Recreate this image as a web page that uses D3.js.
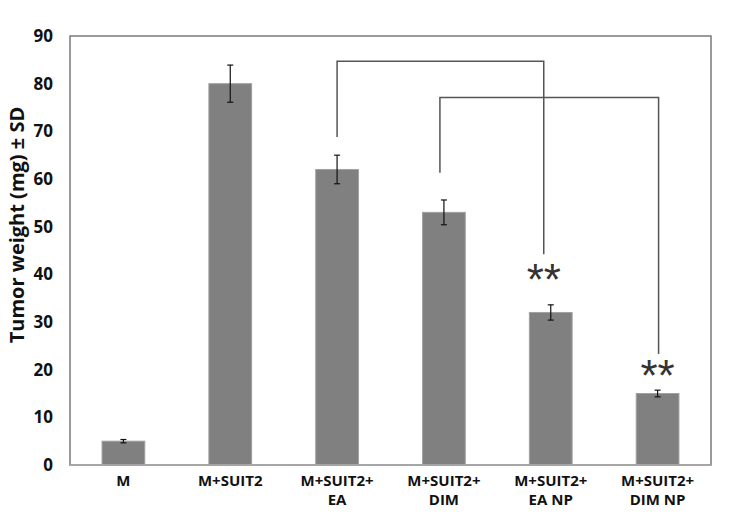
<!DOCTYPE html>
<html>
<head>
<meta charset="utf-8">
<script src="https://cdn.jsdelivr.net/npm/d3@7"></script>
<style>
  body { margin: 0; background: #fff; }
  svg { display: block; }
  text { font-family: "Open Sans", "Liberation Sans", sans-serif; }
</style>
</head>
<body>
<svg width="749" height="523"></svg>
<script>
// data
var categories = ["M", "M+SUIT2", "M+SUIT2+\nEA", "M+SUIT2+\nDIM", "M+SUIT2+\nEA NP", "M+SUIT2+\nDIM NP"];
var weights = [5, 80, 62, 53, 32, 15];
var sds = [0.35, 3.9, 3, 2.6, 1.6, 0.7];
var yTicks = [0, 10, 20, 30, 40, 50, 60, 70, 80, 90];
// brackets: from, to, top value, left leg end, right leg end
var brackets = [
    { from: 2, to: 4, top: 84.7, left: 68.8, right: 44.2, dxL: 0, dxR: -7 },
    { from: 3, to: 5, top: 77.1, left: 61.3, right: 23.3, dxL: -4, dxR: 1 }
];
var stars = [{ at: 4, value: 40, dx: -7 }, { at: 5, value: 20, dx: 0 }];

(function () {
    var svg = d3.select("svg");
    var left = 70, right = 711, top = 36, bottom = 465;

    var x = d3.scaleBand()
        .domain(d3.range(categories.length))
        .range([left, right])
        .paddingInner(0.6)
        .paddingOuter(0.3);
    var y = d3.scaleLinear().domain([0, 90]).range([bottom, top]);

    /*
        Frame
    */
    svg.append("rect")
        .attr("x", left).attr("y", top)
        .attr("width", right - left).attr("height", bottom - top)
        .attr("fill", "none")
        .attr("stroke", "#7a7a7a")
        .attr("stroke-width", 1.5);

    var yAxis = svg.append("g")
        .attr("transform", "translate(" + left + ",0)")
        .call(d3.axisLeft(y).tickValues(yTicks).tickSize(0).tickPadding(17));
    yAxis.select(".domain").remove();
    yAxis.selectAll("text")
        .attr("font-size", 17)
        .attr("font-weight", "bold")
        .attr("fill", "#111")
        .style("font-family", "'Open Sans', sans-serif");

    svg.append("text")
        .attr("transform", "translate(17,225) rotate(-90)")
        .attr("text-anchor", "middle")
        .attr("dy", ".35em")
        .attr("font-size", 20)
        .attr("font-weight", "bold")
        .attr("fill", "#111")
        .text("Tumor weight (mg) ± SD");

    /*
        Bars
    */
    var bars = svg.selectAll("g.bar").data(weights).enter().append("g")
        .attr("class", "bar");
    bars.append("rect")
        .attr("x", function (d, i) { return x(i); })
        .attr("y", function (d) { return y(d); })
        .attr("width", x.bandwidth())
        .attr("height", function (d) { return bottom - y(d); })
        .attr("fill", "#808080")
        .attr("stroke", "#a0a0a0")
        .attr("stroke-width", 1);

    // error bars
    bars.each(function (d, i) {
        var g = d3.select(this);
        var cx = x(i) + x.bandwidth() / 2;
        var y1 = y(d + sds[i]), y2 = y(d - sds[i]);
        g.append("line").attr("x1", cx).attr("x2", cx).attr("y1", y1).attr("y2", y2);
        g.append("line").attr("x1", cx - 3).attr("x2", cx + 3).attr("y1", y1).attr("y2", y1);
        g.append("line").attr("x1", cx - 3).attr("x2", cx + 3).attr("y1", y2).attr("y2", y2);
        g.selectAll("line").attr("stroke", "#111").attr("stroke-width", 1.2);
    });

    svg.append("line")
        .attr("x1", left).attr("x2", right)
        .attr("y1", bottom).attr("y2", bottom)
        .attr("stroke", "#aaa").attr("stroke-width", 1.5);

    /*
        Category labels
    */
    var labels = svg.selectAll("text.cat").data(categories).enter().append("text")
        .attr("class", "cat")
        .attr("text-anchor", "middle")
        .attr("font-size", 15)
        .attr("font-weight", "bold")
        .attr("fill", "#111");
    labels.each(function (d, i) {
        var t = d3.select(this);
        var cx = x(i) + x.bandwidth() / 2;
        d.split("\n").forEach(function (line, k) {
            t.append("tspan").attr("x", cx).attr("y", 486 + k * 19).text(line);
        });
    });

    /*
        Significance brackets
    */
    brackets.forEach(function (b) {
        var x1 = x(b.from) + x.bandwidth() / 2 + b.dxL;
        var x2 = x(b.to) + x.bandwidth() / 2 + b.dxR;
        var path = d3.path();
        path.moveTo(x1, y(b.left));
        path.lineTo(x1, y(b.top));
        path.lineTo(x2, y(b.top));
        path.lineTo(x2, y(b.right));
        svg.append("path")
            .attr("d", path.toString())
            .attr("fill", "none")
            .attr("stroke", "#555")
            .attr("stroke-width", 1.5);
    });

    svg.selectAll("text.star").data(stars).enter().append("text")
        .attr("class", "star")
        .attr("x", function (d) { return x(d.at) + x.bandwidth() / 2 + d.dx; })
        .attr("y", function (d) { return y(d.value) + 21; })
        .attr("text-anchor", "middle")
        .attr("font-size", 44)
        .attr("fill", "#333")
        .style("font-family", "'Liberation Sans', sans-serif")
        .text("**");
})();
</script>
</body>
</html>
